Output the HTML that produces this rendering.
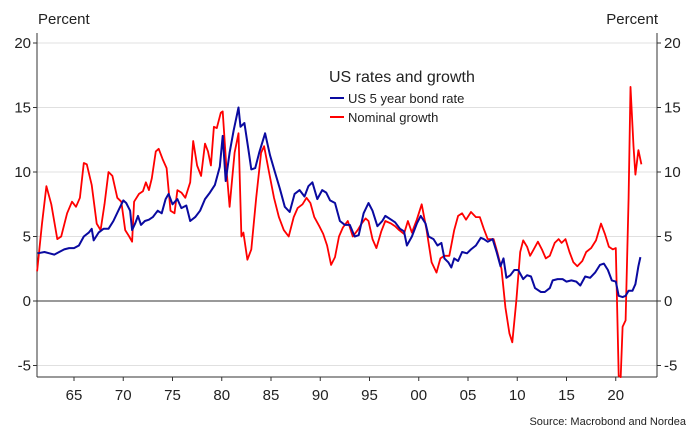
<!DOCTYPE html>
<html><head><meta charset="utf-8"><style>
body{margin:0;background:#fff;font-family:"Liberation Sans",sans-serif;}
svg text{font-family:"Liberation Sans",sans-serif;fill:#222;}
</style></head><body>
<svg id="chart" width="697" height="440" viewBox="0 0 697 440" xmlns="http://www.w3.org/2000/svg">
<text x="38" y="24" font-size="15">Percent</text>
<text x="658" y="24" font-size="15" text-anchor="end">Percent</text>
<g id="grid"></g>
<g id="lines"></g>
<g>
<text x="329" y="82" font-size="16">US rates and growth</text>
<line x1="330" y1="98" x2="344" y2="98" stroke="#0a0aa0" stroke-width="2"/>
<text x="348" y="103" font-size="13">US 5 year bond rate</text>
<line x1="330" y1="117" x2="344" y2="117" stroke="#f00" stroke-width="2"/>
<text x="348" y="122" font-size="13">Nominal growth</text>
</g>
<text x="686" y="425" font-size="11" text-anchor="end">Source: Macrobond and Nordea</text>
</svg>
<script>
const yTicks=[20,15,10,5,0,-5];
const xTickYears=[1965,1970,1975,1980,1985,1990,1995,2000,2005,2010,2015,2020];
const xTickLabels=["65","70","75","80","85","90","95","00","05","10","15","20"];
const growthDates=[1961.25,1961.75,1962.2,1962.7,1963.3,1963.7,1964.3,1964.8,1965.2,1965.6,1966.0,1966.3,1966.8,1967.3,1967.7,1968.1,1968.5,1968.9,1969.4,1969.8,1970.2,1970.6,1970.9,1971.1,1971.6,1972.0,1972.3,1972.6,1972.9,1973.3,1973.6,1974.0,1974.4,1974.8,1975.2,1975.5,1975.9,1976.3,1976.8,1977.1,1977.5,1977.9,1978.3,1978.6,1978.9,1979.2,1979.5,1979.9,1980.1,1980.5,1980.8,1981.0,1981.3,1981.7,1982.0,1982.2,1982.6,1983.0,1983.5,1984.0,1984.3,1984.8,1985.3,1985.8,1986.3,1986.8,1987.3,1987.7,1988.2,1988.6,1989.0,1989.4,1989.9,1990.3,1990.7,1991.1,1991.5,1991.9,1992.3,1992.8,1993.3,1993.8,1994.2,1994.6,1994.9,1995.3,1995.7,1996.2,1996.6,1997.2,1997.6,1998.0,1998.5,1998.9,1999.3,1999.8,2000.3,2000.8,2001.3,2001.8,2002.2,2002.6,2003.1,2003.6,2004.0,2004.4,2004.8,2005.3,2005.8,2006.2,2006.6,2007.0,2007.6,2008.0,2008.4,2008.8,2009.2,2009.5,2009.9,2010.3,2010.6,2011.0,2011.3,2011.6,2012.1,2012.5,2012.9,2013.3,2013.8,2014.2,2014.5,2014.9,2015.3,2015.7,2016.1,2016.6,2017.0,2017.5,2018.0,2018.5,2018.9,2019.3,2019.7,2020.0,2020.3,2020.5,2020.7,2021.0,2021.3,2021.5,2021.8,2022.0,2022.3,2022.6];
const growthValues=[2.3,6,8.9,7.5,4.8,5,6.8,7.7,7.3,8,10.7,10.6,9,6,5.5,7.5,10,9.7,8,7.7,5.5,5.0,4.6,7.7,8.3,8.5,9.2,8.6,9.5,11.6,11.8,11,10.3,7.0,6.8,8.6,8.4,8.0,9.2,12.4,10.5,9.7,12.2,11.6,10.5,13.5,13.4,14.6,14.7,10,7.3,9,11.5,13,5,5.3,3.2,4,8,11.5,12,10,8,6.5,5.5,5,6.5,7.2,7.5,8,7.6,6.5,5.8,5.2,4.3,2.8,3.4,5,5.7,6.2,5,5.5,6,6.4,6.2,4.8,4.1,5.4,6.2,6,5.8,5.5,5.2,6.2,5.3,6.3,7.5,5.5,3,2.2,3.3,3.5,3.5,5.5,6.6,6.8,6.3,6.9,6.5,6.5,5.6,4.8,4.8,3.7,2.5,-0.5,-2.5,-3.2,0,3.8,4.7,4.2,3.5,3.9,4.6,4,3.3,3.5,4.5,4.8,4.5,4.8,3.8,3,2.7,3.1,3.8,4.1,4.7,6,5.2,4.2,4,4.1,-5.8,-5.9,-2,-1.5,8,16.6,12,9.8,11.7,10.6];
const bondDates=[1961.3,1962.0,1962.5,1963.0,1963.5,1964.0,1964.5,1965.0,1965.5,1966.0,1966.5,1966.8,1967.0,1967.5,1968.0,1968.5,1969.0,1969.5,1970.0,1970.3,1970.7,1970.9,1971.2,1971.5,1971.8,1972.2,1972.6,1973.0,1973.5,1973.9,1974.3,1974.6,1975.0,1975.5,1975.9,1976.4,1976.8,1977.3,1977.8,1978.3,1978.8,1979.3,1979.8,1980.1,1980.4,1980.8,1981.2,1981.7,1981.9,1982.3,1982.7,1983.0,1983.4,1983.8,1984.4,1984.9,1985.4,1985.9,1986.4,1986.9,1987.4,1987.9,1988.4,1988.8,1989.2,1989.7,1990.2,1990.6,1991.0,1991.5,1992.0,1992.5,1993.0,1993.5,1993.9,1994.4,1994.9,1995.3,1995.8,1996.3,1996.6,1997.2,1997.6,1998.1,1998.5,1998.8,1999.3,1999.8,2000.2,2000.7,2001.0,2001.5,2001.9,2002.3,2002.6,2003.0,2003.3,2003.6,2004.0,2004.4,2004.9,2005.3,2005.8,2006.3,2006.6,2007.0,2007.5,2007.9,2008.3,2008.6,2008.9,2009.3,2009.7,2010.1,2010.6,2011.0,2011.4,2011.8,2012.4,2012.8,2013.3,2013.6,2014.1,2014.6,2015.0,2015.5,2016.0,2016.4,2016.9,2017.4,2017.9,2018.4,2018.8,2019.2,2019.6,2020.0,2020.3,2020.7,2021.0,2021.3,2021.7,2022.0,2022.3,2022.5];
const bondValues=[3.7,3.8,3.7,3.6,3.8,4.0,4.1,4.1,4.3,5.0,5.3,5.6,4.7,5.3,5.6,5.6,6.2,7.0,7.8,7.6,7.0,5.5,6.0,6.6,5.9,6.2,6.3,6.5,7.0,6.8,7.9,8.3,7.5,7.9,7.2,7.4,6.2,6.5,7.0,7.9,8.4,9.0,10.4,12.8,9.3,11.5,13.2,15.0,13.5,13.8,11.8,10.2,10.3,11.5,13.0,11.3,10.0,8.7,7.3,6.9,8.3,8.6,8.1,8.9,9.2,7.9,8.6,8.4,7.8,7.6,6.2,5.9,5.9,5.0,5.1,6.8,7.6,7.0,5.8,6.2,6.6,6.3,6.1,5.6,5.4,4.3,5.0,6.0,6.6,6.0,5.0,4.8,4.3,4.5,3.3,3.0,2.6,3.3,3.1,3.8,3.7,4.0,4.3,4.9,4.8,4.6,4.8,3.8,2.7,3.3,1.8,2.0,2.4,2.4,1.7,2.0,1.9,1.0,0.7,0.7,1.0,1.6,1.7,1.7,1.5,1.6,1.5,1.2,1.9,1.8,2.2,2.8,2.9,2.4,1.6,1.5,0.4,0.3,0.4,0.8,0.8,1.3,2.7,3.4];

const X0=37,X1=657,Y0=33,Y1=377;
function xs(yr){return 74+(yr-1965)*9.85;}
function ys(v){return 301-v*12.9;}
const NS="http://www.w3.org/2000/svg";
const grid=document.getElementById('grid'),lines=document.getElementById('lines');
function mk(tag,attrs,parent){const e=document.createElementNS(NS,tag);for(const k in attrs)e.setAttribute(k,attrs[k]);parent.appendChild(e);return e;}
yTicks.forEach(v=>{
  const y=ys(v);
  const g=mk('line',{x1:X0,x2:X1,y1:y,y2:y,stroke:v===0?'#333':'#e0e0e0','stroke-width':1},grid);
  
  
  mk('line',{x1:X0-4,x2:X0,y1:y,y2:y,stroke:'#333'},grid);
  mk('line',{x1:X1,x2:X1+4,y1:y,y2:y,stroke:'#333'},grid);
  const l=mk('text',{x:X0-6,y:y+5,'font-size':15,'text-anchor':'end'},grid);l.textContent=v;
  
  
  const r=mk('text',{x:X1+7,y:y+5,'font-size':15},grid);r.textContent=v;
  
  
});
mk('line',{x1:X0,x2:X0,y1:Y0,y2:Y1,stroke:'#333'},grid);
mk('line',{x1:X1,x2:X1,y1:Y0,y2:Y1,stroke:'#333'},grid);
mk('line',{x1:X0,x2:X1,y1:Y1,y2:Y1,stroke:'#333'},grid);
xTickYears.forEach((yr,i)=>{
  const x=xs(yr);
  mk('line',{x1:x,x2:x,y1:Y1,y2:Y1+4,stroke:'#333'},grid);
  const t=mk('text',{x:x,y:400,'font-size':15,'text-anchor':'middle'},grid);t.textContent=xTickLabels[i];
  
  
});
function path(d,v,color,w,name){
  const p=mk('path',{d:d.map((t,i)=>(i?'L':'M')+xs(t).toFixed(1)+','+ys(v[i]).toFixed(1)).join(''),fill:'none',stroke:color,'stroke-width':w,'stroke-linejoin':'round'},lines);
  
  
}
path(growthDates,growthValues,'#f00',1.8,'nominal-growth-line');
path(bondDates,bondValues,'#0a0aa0',2,'bond-rate-line');
</script>
</body></html>
